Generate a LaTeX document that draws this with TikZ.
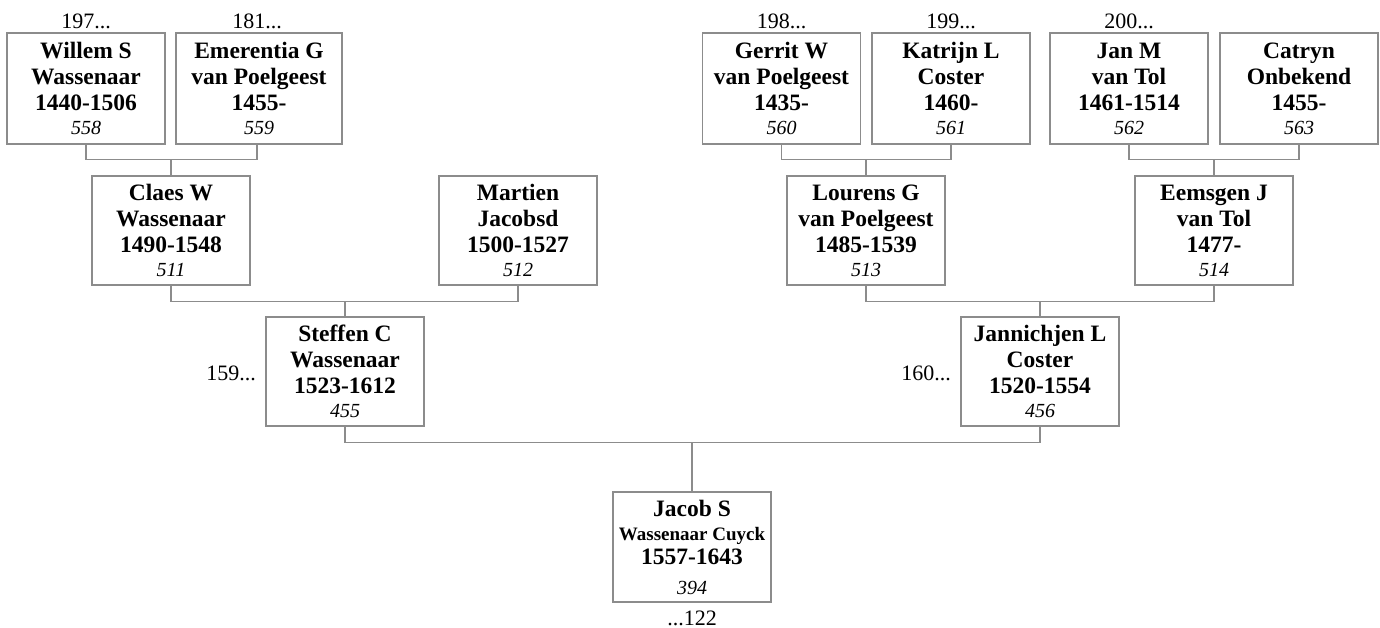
\documentclass[tikz,border=0pt]{standalone}
\usepackage{fontspec}
\setmainfont{Liberation Serif}
\definecolor{linegray}{RGB}{140,140,140}
\newcommand{\idnum}[1]{{\fontsize{20}{24}\selectfont\mdseries\itshape #1}}
\begin{document}
\begin{tikzpicture}[x=1pt,y=-1pt,
  person/.style={draw=linegray,line width=1.2pt,fill=white,rectangle,inner sep=0pt,
    minimum width=158pt,minimum height=111pt,align=center,
    font=\fontsize{23.5}{26}\selectfont\bfseries},
  link/.style={draw=linegray,line width=1.2pt},
  ref/.style={font=\fontsize{22}{26}\selectfont}]
\useasboundingbox (0,0) rectangle (1380,628);
% generation 4
\node[person] (willem) at (86,88.5) {Willem S\\Wassenaar\\1440-1506\\[-2pt]\idnum{558}};
\node[person,minimum width=166pt] (emer) at (259,88.5) {Emerentia G\\van Poelgeest\\1455-\\[-2pt]\idnum{559}};
\node[person] (gerrit) at (781.5,88.5) {Gerrit W\\van Poelgeest\\1435-\\[-2pt]\idnum{560}};
\node[person] (katrijn) at (951,88.5) {Katrijn L\\Coster\\1460-\\[-2pt]\idnum{561}};
\node[person] (janm) at (1129,88.5) {Jan M\\van Tol\\1461-1514\\[-2pt]\idnum{562}};
\node[person] (catryn) at (1299,88.5) {Catryn\\Onbekend\\1455-\\[-2pt]\idnum{563}};
% generation 3
\node[person,minimum height=109pt] (claes) at (171,230.5) {Claes W\\Wassenaar\\1490-1548\\[-2pt]\idnum{511}};
\node[person,minimum height=109pt] (martien) at (518,230.5) {Martien\\Jacobsd\\1500-1527\\[-2pt]\idnum{512}};
\node[person,minimum height=109pt] (lourens) at (866,230.5) {Lourens G\\van Poelgeest\\1485-1539\\[-2pt]\idnum{513}};
\node[person,minimum height=109pt] (eemsgen) at (1214,230.5) {Eemsgen J\\van Tol\\1477-\\[-2pt]\idnum{514}};
% generation 2
\node[person,minimum height=109pt] (steffen) at (345,371.5) {Steffen C\\Wassenaar\\1523-1612\\[-2pt]\idnum{455}};
\node[person,minimum height=109pt] (jannichjen) at (1040,371.5) {Jannichjen L\\Coster\\1520-1554\\[-2pt]\idnum{456}};
% generation 1
\node[person,minimum height=110pt] (jacob) at (692,547) {Jacob S\\[-2pt]{\fontsize{19}{24}\selectfont Wassenaar Cuyck}\\[-2pt]1557-1643\\[4pt]\idnum{394}};
% references
\node[ref,anchor=base] (r197) at ([yshift=4pt]willem.north) {197...};
\node[ref,anchor=base] (r181) at ([xshift=-2pt,yshift=4pt]emer.north) {181...};
\node[ref,anchor=base] (r198) at ([yshift=4pt]gerrit.north) {198...};
\node[ref,anchor=base] (r199) at ([yshift=4pt]katrijn.north) {199...};
\node[ref,anchor=base] (r200) at ([yshift=4pt]janm.north) {200...};
\node[ref,anchor=base east] (r159) at ([xshift=-6pt,yshift=-8.5pt]steffen.west) {159...};
\node[ref,anchor=base east] (r160) at ([xshift=-6pt,yshift=-8.5pt]jannichjen.west) {160...};
\node[ref,anchor=base] (r122) at ([yshift=-22.5pt]jacob.south) {...122};
% connectors
\draw[link] (willem.south) -- ++(0,15) coordinate (b1) -| ([xshift=-2pt]emer.south);
\draw[link] (b1 -| claes.north) -- (claes.north);
\draw[link] (gerrit.south) -- ++(0,15) coordinate (b2) -| (katrijn.south);
\draw[link] (b2 -| lourens.north) -- (lourens.north);
\draw[link] (janm.south) -- ++(0,15) coordinate (b3) -| (catryn.south);
\draw[link] (b3 -| eemsgen.north) -- (eemsgen.north);
\draw[link] (claes.south) -- ++(0,16) coordinate (b4) -| (martien.south);
\draw[link] (b4 -| steffen.north) -- (steffen.north);
\draw[link] (lourens.south) -- ++(0,16) coordinate (b5) -| (eemsgen.south);
\draw[link] (b5 -| jannichjen.north) -- (jannichjen.north);
\draw[link] (steffen.south) -- ++(0,16) coordinate (b6) -| (jannichjen.south);
\draw[link] (b6 -| jacob.north) -- (jacob.north);
\end{tikzpicture}
\end{document}
